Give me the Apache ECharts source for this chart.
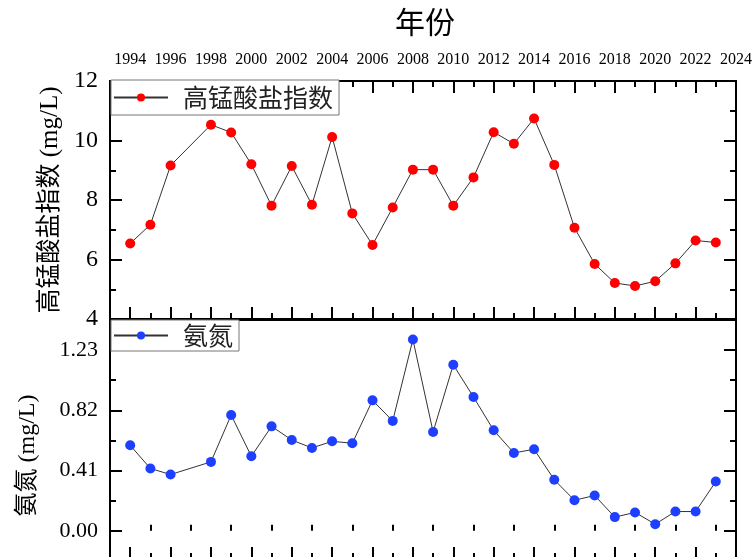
<!DOCTYPE html>
<html>
<head>
<meta charset="utf-8">
<script src="https://cdn.jsdelivr.net/npm/echarts@6/dist/echarts.min.js"></script>
<style>
html,body{margin:0;padding:0;background:#fff;}
#c{width:753px;height:557px;}
</style>
</head>
<body>
<div id="c"></div>
<script>
// Axis categories (tick positions), years 1993..2024
const axisYears = ['1993','1994','1995','1996','1997','1998','1999','2000','2001','2002','2003','2004','2005','2006','2007','2008','2009','2010','2011','2012','2013','2014','2015','2016','2017','2018','2019','2020','2021','2022','2023','2024'];
// Data years (1997 missing)
const dataYears = ['1994','1995','1996','1998','1999','2000','2001','2002','2003','2004','2005','2006','2007','2008','2009','2010','2011','2012','2013','2014','2015','2016','2017','2018','2019','2020','2021','2022','2023'];
// 高锰酸盐指数 (mg/L)
const pmValues = [6.54,7.17,9.16,10.53,10.27,9.20,7.81,9.14,7.84,10.12,7.55,6.49,7.75,9.02,9.02,7.81,8.76,10.28,9.89,10.74,9.18,7.07,5.85,5.21,5.11,5.27,5.87,6.64,6.57];
// 氨氮 (mg/L)
const nhValues = [0.582,0.424,0.383,0.469,0.788,0.507,0.711,0.618,0.564,0.609,0.596,0.888,0.748,1.302,0.673,1.130,0.911,0.684,0.530,0.555,0.347,0.208,0.240,0.093,0.125,0.045,0.131,0.131,0.335];
const nhTickLabels = ['0.00','0.41','0.82','1.23'];

const serif = 'Liberation Serif';
const cjk = '"Liberation Serif", "Noto Sans CJK SC"';
const isEven = (i, v) => parseInt(v, 10) % 2 === 0;
const isOdd = (i, v) => parseInt(v, 10) % 2 !== 0;
const tickStyle = {color: '#000', width: 2};

function xAx(grid, pos, major, showLabel) {
  return {
    type: 'category', gridIndex: grid, position: pos, data: axisYears, boundaryGap: false,
    axisLine: {show: false},
    axisTick: {show: true, inside: true, length: major ? 12 : 6, interval: major ? isEven : isOdd, lineStyle: tickStyle},
    axisLabel: {show: showLabel, interval: isEven, fontFamily: serif, fontSize: 16, color: '#000', margin: 13},
    splitLine: {show: false}
  };
}

const chart = echarts.init(document.getElementById('c'));
chart.setOption({
  animation: false,
  backgroundColor: '#fff',
  title: {text: '年份', left: 395, top: 7, padding: 0,
    textStyle: {fontFamily: '"Noto Sans CJK SC"', fontSize: 30, fontWeight: 'normal', color: '#000'}},
  grid: [
    {left: 110, top: 81, width: 626, height: 238, show: true, borderColor: '#000', borderWidth: 2,
      backgroundColor: 'transparent', outerBoundsMode: 'none', containLabel: false},
    {left: 110, top: 320, width: 626, height: 271, show: true, borderColor: '#000', borderWidth: 2,
      backgroundColor: 'transparent', outerBoundsMode: 'none', containLabel: false},
    // bottom frame edge of the lower panel (just below the visible area)
    {left: 110, top: 320, width: 626, height: 239, show: false,
      outerBoundsMode: 'none', containLabel: false}
  ],
  legend: [
    {data: ['高锰酸盐指数'], left: 111, top: 80, itemWidth: 54, itemHeight: 10, padding: [5, 6, 5, 2],
      borderColor: '#777', borderWidth: 1, backgroundColor: '#fff',
      textStyle: {fontFamily: '"Noto Sans CJK SC"', fontSize: 25, color: '#222', padding: [0, 0, 0, 10]}},
    {data: ['氨氮'], left: 111, top: 320, itemWidth: 54, itemHeight: 10, padding: [3, 6, 3, 2],
      borderColor: '#777', borderWidth: 1, backgroundColor: '#fff',
      textStyle: {fontFamily: '"Noto Sans CJK SC"', fontSize: 25, color: '#222', padding: [0, 0, 0, 10]}}
  ],
  xAxis: [
    xAx(0, 'top', true, true),
    xAx(0, 'top', false, false),
    xAx(0, 'bottom', true, false),
    xAx(0, 'bottom', false, false),
    xAx(1, 'bottom', false, false),
    xAx(2, 'bottom', true, false),
    xAx(2, 'bottom', false, false)
  ],
  yAxis: [
    {type: 'value', gridIndex: 0, position: 'left', min: 4, max: 12, interval: 2,
      name: '高锰酸盐指数 (mg/L)', nameLocation: 'middle', nameGap: 42,
      nameTextStyle: {fontFamily: cjk, fontSize: 25, color: '#000'},
      axisLine: {show: false},
      axisTick: {show: true, inside: true, length: 12, lineStyle: tickStyle},
      minorTick: {show: true, splitNumber: 2, length: 6, lineStyle: tickStyle},
      axisLabel: {fontFamily: serif, fontSize: 24, color: '#000', margin: 12},
      splitLine: {show: false}},
    {type: 'value', gridIndex: 0, position: 'right', min: 4, max: 12, interval: 2,
      axisLine: {show: false},
      axisTick: {show: true, inside: true, length: 12, lineStyle: tickStyle},
      minorTick: {show: true, splitNumber: 2, length: 6, lineStyle: tickStyle},
      axisLabel: {show: false}, splitLine: {show: false}},
    {type: 'value', gridIndex: 1, position: 'left', min: -0.41, max: 1.435, interval: 0.41,
      name: '氨氮 (mg/L)', nameLocation: 'middle', nameGap: 70,
      nameTextStyle: {fontFamily: cjk, fontSize: 24, color: '#000'},
      axisLine: {show: false},
      axisTick: {show: true, inside: true, length: 12, lineStyle: tickStyle},
      minorTick: {show: true, splitNumber: 2, length: 6, lineStyle: tickStyle},
      axisLabel: {fontFamily: serif, fontSize: 22, color: '#000', margin: 12,
        formatter: v => { const s = (Math.abs(v) < 1e-9 ? 0 : v).toFixed(2); return nhTickLabels.includes(s) ? s : ''; }},
      splitLine: {show: false}},
    {type: 'value', gridIndex: 1, position: 'right', min: -0.41, max: 1.435, interval: 0.41,
      axisLine: {show: false},
      axisTick: {show: true, inside: true, length: 12, lineStyle: tickStyle},
      minorTick: {show: true, splitNumber: 2, length: 6, lineStyle: tickStyle},
      axisLabel: {show: false}, splitLine: {show: false}},
    {type: 'value', gridIndex: 2, min: 0, max: 1, show: false}
  ],
  series: [
    {name: '高锰酸盐指数', type: 'line', xAxisIndex: 0, yAxisIndex: 0,
      data: dataYears.map((y, i) => [y, pmValues[i]]),
      symbol: 'circle', symbolSize: 10, showAllSymbol: true,
      itemStyle: {color: '#ff0000'}, lineStyle: {color: '#333', width: 1}},
    {name: '氨氮', type: 'line', xAxisIndex: 4, yAxisIndex: 2,
      data: dataYears.map((y, i) => [y, nhValues[i]]),
      symbol: 'circle', symbolSize: 10, showAllSymbol: true,
      itemStyle: {color: '#1f3fff'}, lineStyle: {color: '#333', width: 1}}
  ]
});
</script>
</body>
</html>
